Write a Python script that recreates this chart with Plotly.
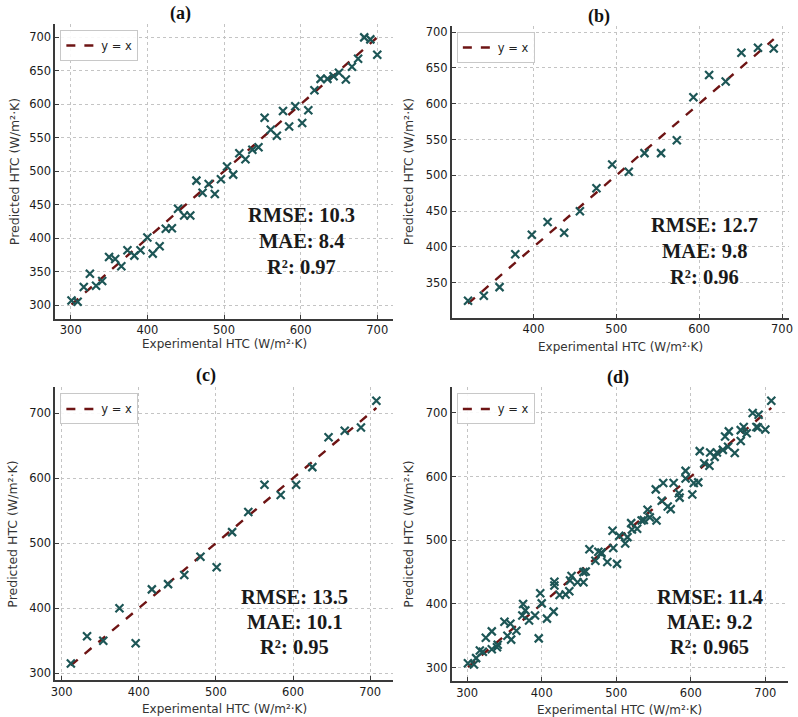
import plotly.graph_objects as go

W, H = 798, 717

# ---------------- data ----------------
a_exp = [301, 309, 317, 325, 333, 341, 350, 358, 366, 374, 383, 391, 400, 407, 416, 424, 432,
         440, 448, 456, 464, 472, 480, 488, 496, 504, 512, 520, 528, 537, 545, 553, 561, 569,
         577, 585, 593, 602, 610, 618, 626, 635, 643, 650, 659, 667, 675, 683, 691, 700]
a_pred = [307, 305, 327, 347, 329, 336, 372, 369, 358, 382, 374, 382, 401, 377, 388, 414, 415,
          444, 434, 434, 486, 468, 481, 466, 488, 507, 495, 527, 518, 532, 536, 580, 562, 553,
          590, 567, 597, 572, 591, 621, 638, 638, 642, 647, 637, 656, 668, 700, 697, 674]

b_exp = [321, 340, 359, 378, 398, 417, 437, 456, 476, 495, 515, 534, 554, 573, 593, 612,
         632, 651, 671, 690]
b_pred = [325, 332, 344, 390, 417, 435, 420, 450, 482, 515, 505, 531, 531, 549, 609, 640,
          631, 671, 678, 677]

c_exp = [312, 333, 354, 375, 396, 417, 438, 459, 480, 501, 521, 542, 563, 584, 604, 625,
         646, 667, 688, 708]
c_pred = [315, 357, 350, 400, 346, 429, 437, 451, 479, 463, 517, 548, 590, 574, 590, 617,
          663, 673, 678, 719]

# panel (d) shows all points together
d_exp = a_exp + b_exp + c_exp
d_pred = a_pred + b_pred + c_pred

panel_labels = ["(a)", "(b)", "(c)", "(d)"]
stats = [
    ["RMSE: 10.3", "MAE: 8.4", "R²: 0.97"],
    ["RMSE: 12.7", "MAE: 9.8", "R²: 0.96"],
    ["RMSE: 13.5", "MAE: 10.1", "R²: 0.95"],
    ["RMSE: 11.4", "MAE: 9.2", "R²: 0.965"],
]
x_ticks = [[300, 400, 500, 600, 700], [400, 500, 600, 700], [300, 400, 500, 600, 700],
           [300, 400, 500, 600, 700]]
y_ticks = [[300, 350, 400, 450, 500, 550, 600, 650, 700],
           [350, 400, 450, 500, 550, 600, 650, 700],
           [300, 400, 500, 600, 700], [300, 400, 500, 600, 700]]
xlabel = "Experimental HTC (W/m²·K)"
ylabel = "Predicted HTC (W/m²·K)"

# ---------------- layout geometry (pixels) ----------------
boxes = [  # left, top, right, bottom in pixels
    (51, 23, 392, 318),
    (452, 25, 793, 317),
    (51, 387, 392, 680),
    (452, 387, 792, 681),
]
xranges = [[280, 720], [301.5, 708.5], [292, 729], [279.5, 730.5]]
yranges = [[280, 720], [301.5, 708.5], [289.5, 739.5], [279, 740]]
title_pos = [(177, 13), (601, 16), (203, 375), (620, 377)]
stat_pos = [(300, 214, 26), (707, 224, 26), (293, 597, 25), (713, 597, 25)]
xlabel_y = [343, 346, 709, 710]
ylabel_x = [9, 408, 8, 408]

def px(x):
    return x / W

def py(y):
    return 1 - y / H

series = [(a_exp, a_pred), (b_exp, b_pred), (c_exp, c_pred), (d_exp, d_pred)]

fig = go.Figure()
annotations = []
layout = dict(
    width=W, height=H, margin=dict(l=0, r=0, t=0, b=0),
    paper_bgcolor="white", plot_bgcolor="white", showlegend=True,
    font=dict(family="DejaVu Sans", color="#222"),
)

marker_color = "#1d5656"
line_color = "#6e1414"

def ann(x, y, text, font, **kw):
    d = dict(x=px(x), y=py(y), xref="paper", yref="paper", text=text, showarrow=False,
             xanchor="center", yanchor="middle", font=font)
    d.update(kw)
    return d

for i, (xs, ys) in enumerate(series):
    n = "" if i == 0 else str(i + 1)
    xa, ya = "x" + n, "y" + n
    leg = "legend" + n
    lo, hi = min(xs), max(xs)
    fig.add_trace(go.Scatter(
        x=[lo, hi], y=[lo, hi], mode="lines", name="y = x",
        line=dict(color=line_color, width=2.4, dash="dash"),
        xaxis=xa, yaxis=ya, legend=leg, showlegend=True,
    ))
    fig.add_trace(go.Scatter(
        x=xs, y=ys, mode="markers", name="points",
        marker=dict(symbol="x-thin", size=8, line=dict(color=marker_color, width=2.2)),
        xaxis=xa, yaxis=ya, legend=leg, showlegend=False,
    ))
    l, t, r, b = boxes[i]
    axcommon = dict(
        showgrid=True, gridcolor="#c4c4c4", griddash="dot", gridwidth=1,
        showline=True, linecolor="#3a3a3a", linewidth=2, mirror=False,
        ticks="inside", ticklen=4, tickcolor="#3a3a3a", tickwidth=1,
        zeroline=False, tickfont=dict(size=11.5, color="#1a1a1a", family="DejaVu Sans"),
    )
    layout["xaxis" + n] = dict(axcommon, domain=[px(l), px(r)], range=xranges[i],
                               tickvals=x_ticks[i], anchor=ya, ticklabelstandoff=0)
    layout["yaxis" + n] = dict(axcommon, domain=[py(b), py(t)], range=yranges[i],
                               tickvals=y_ticks[i], anchor=xa)
    layout[leg] = dict(
        x=px(l + 5), y=py(t + 6), xanchor="left", yanchor="top",
        bgcolor="rgba(255,255,255,0.9)", bordercolor="#c8c8c8", borderwidth=1,
        font=dict(size=11.5, color="#222", family="DejaVu Sans"),
        itemwidth=30, tracegroupgap=0,
    )
    tx, ty = title_pos[i]
    annotations.append(ann(tx, ty, "<b>" + panel_labels[i] + "</b>",
                           dict(family="Liberation Serif", size=18, color="#111")))
    sx, sy, dy = stat_pos[i]
    for k, s in enumerate(stats[i]):
        annotations.append(ann(sx, sy + k * dy, "<b>" + s + "</b>",
                               dict(family="Liberation Serif", size=20.5, color="#1a1a1a")))
    annotations.append(ann((l + r) / 2, xlabel_y[i], xlabel,
                           dict(size=12, color="#333", family="DejaVu Sans")))
    annotations.append(ann(ylabel_x[i], (t + b) / 2, ylabel,
                           dict(size=12.5, color="#333", family="DejaVu Sans"), textangle=-90))

layout["annotations"] = annotations
fig.update_layout(**layout)
fig.write_html("out.html")
